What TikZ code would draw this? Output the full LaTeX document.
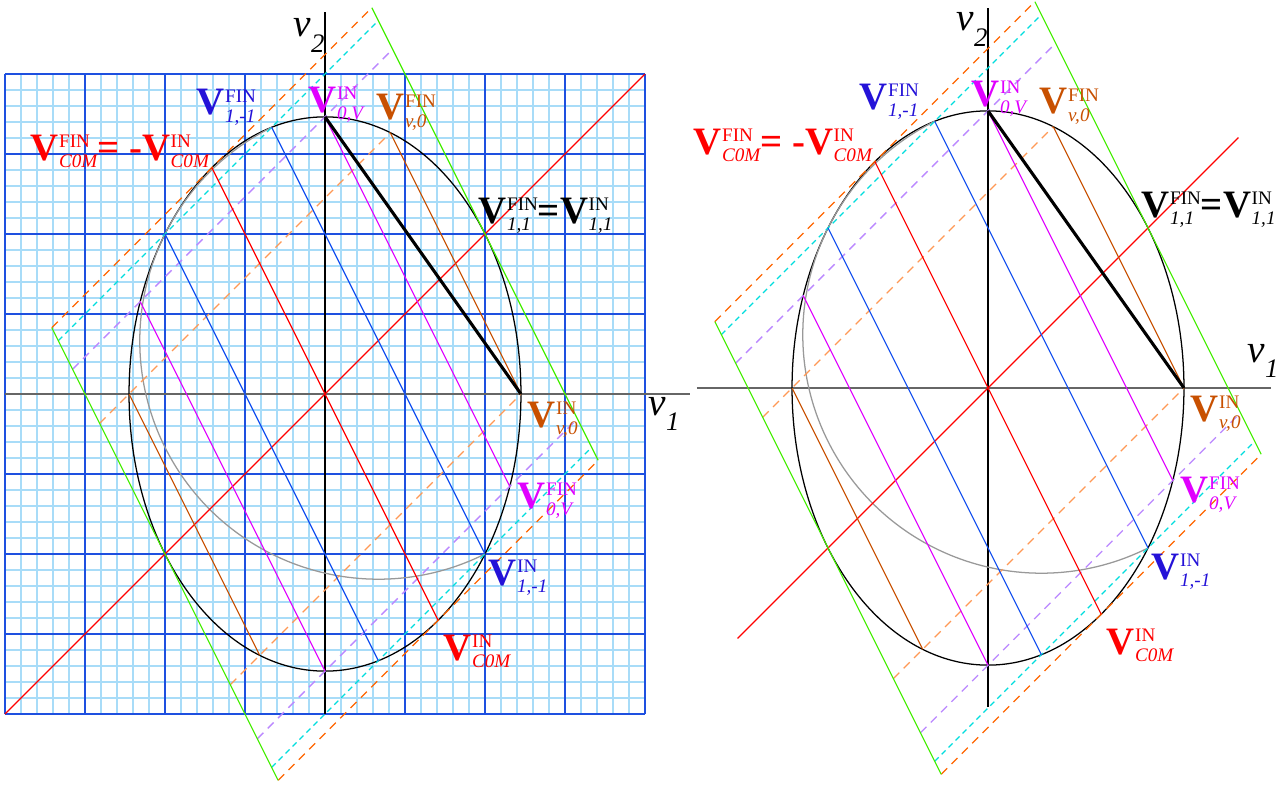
\documentclass[tikz,border=0pt]{standalone}
\usepackage{fontspec}
\setmainfont{Liberation Serif}
\definecolor{cRed}{HTML}{FF0000}
\definecolor{cBlue}{HTML}{1450F0}
\definecolor{cBlueL}{HTML}{2412D8}
\definecolor{cMag}{HTML}{E000FF}
\definecolor{cBrown}{HTML}{C85000}
\definecolor{cGreen}{HTML}{44EE00}
\definecolor{cOrange}{HTML}{FF6600}
\definecolor{cCyan}{HTML}{00DDDD}
\definecolor{cLav}{HTML}{BB88FF}
\definecolor{cLOr}{HTML}{FF9955}
\definecolor{gMaj}{HTML}{1E50E0}
\definecolor{gMin}{HTML}{A8DCF8}
\definecolor{cGray}{HTML}{999999}
\definecolor{cAxis}{HTML}{666666}
\newsavebox\bxA
\newsavebox\bxB
\newcommand\SupSub[2]{%
 \sbox\bxA{\raisebox{4.6pt}{\fontsize{6.8}{7}\selectfont #1}}%
 \sbox\bxB{\raisebox{-2.5pt}{\fontsize{6.8}{7}\selectfont\itshape #2}}%
 \kern0.2pt\ifdim\wd\bxA>\wd\bxB\rlap{\usebox\bxB}\usebox\bxA\else\rlap{\usebox\bxA}\usebox\bxB\fi}
\newcommand\VV[2]{\textbf{V}\SupSub{#1}{#2}}
\newcommand\vsub[1]{\textit{v}\raisebox{-5.5pt}{\fontsize{9.5}{9.5}\selectfont\itshape #1}}
\tikzset{
 chord/.style={line width=0.4pt},
 dsh/.style={line width=0.45pt, dash pattern=on 3pt off 2.2pt},
 dshc/.style={line width=0.45pt, dash pattern=on 2pt off 1.5pt},
 lab/.style={anchor=base west, inner sep=0pt, font=\fontsize{13.8}{14}\selectfont},
 axlab/.style={anchor=base west, inner sep=0pt, font=\fontsize{14}{14}\selectfont},
 haxis/.style={cAxis, line width=0.7pt},
 vaxis/.style={black, line width=0.4pt},
}
% #1,#2 horizontal axis ends; #3,#4 vertical axis ends; #5 diagonal half-length; #6 v1 label position
\newcommand\panel[6]{%
 \coordinate (hL) at (#1,0); \coordinate (hR) at (#2,0);
 \coordinate (vB) at (0,#3); \coordinate (vT) at (0,#4);
 \coordinate (dL) at (-#5,-#5); \coordinate (dR) at (#5,#5);
 \coordinate (O) at (0,0);
 \coordinate (A) at (0,3.46410); \coordinate (Ap) at (2.30940,-1.15470);
 \coordinate (A2) at (-2.30940,1.15470); \coordinate (A2p) at (0,-3.46410);
 \coordinate (B) at (2.44949,0); \coordinate (Bp) at (0.81650,3.26599);
 \coordinate (B2) at (-2.44949,0); \coordinate (B2p) at (-0.81650,-3.26599);
 \coordinate (C) at (1.41421,-2.82843); \coordinate (Cp) at (-1.41421,2.82843);
 \coordinate (D) at (2,-2); \coordinate (Dp) at (-0.66667,3.33333);
 \coordinate (D2) at (-2,2); \coordinate (D2p) at (0.66667,-3.33333);
 \coordinate (G1) at (0.58579,4.82843); \coordinate (G2) at (3.41421,-0.82843);
 \coordinate (G3) at (-3.41421,0.82843); \coordinate (G4) at (-0.58579,-4.82843);
 \coordinate (cu1) at (-3.33333,0.66667); \coordinate (cu2) at (0.66667,4.66667);
 \coordinate (cl1) at (-0.66667,-4.66667); \coordinate (cl2) at (3.33333,-0.66667);
 \coordinate (lu1) at (-3.15470,0.30940); \coordinate (lu2) at (0.84530,4.30940);
 \coordinate (ll1) at (-0.84530,-4.30940); \coordinate (ll2) at (3.15470,-0.30940);
 \coordinate (ou1) at (-2.81650,-0.36701); \coordinate (ol1) at (-1.18350,-3.63299);
 % axes
 \draw[haxis] (hL) -- (hR);
 \draw[vaxis] (vB) -- (vT);
 % ellipse and circle
 \draw[black, line width=0.45pt] (O) ellipse[x radius=2.44949, y radius=3.46410];
 \draw[cGray, line width=0.45pt] (Dp) arc[start angle=116.565, end angle=296.565, radius=2.98142];
 % dashed conjugate lines
 \draw[dsh, cOrange] (G3) -- (G1);
 \draw[dsh, cOrange] (G4) -- (G2);
 \draw[dshc, cCyan] (cu1) -- (cu2);
 \draw[dshc, cCyan] (cl1) -- (cl2);
 \draw[dsh, cLav] (lu1) -- (lu2);
 \draw[dsh, cLav] (ll1) -- (ll2);
 \draw[dsh, cLOr] (ou1) -- (Bp);
 \draw[dsh, cLOr] (ol1) -- (B);
 % diagonal
 \draw[chord, cRed] (dL) -- (dR);
 % chords
 \draw[chord, cGreen] (G1) -- (G2);
 \draw[chord, cGreen] (G3) -- (G4);
 \draw[chord, cBrown] (Bp) -- (B);
 \draw[chord, cBrown] (B2) -- (B2p);
 \draw[chord, cMag] (A) -- (Ap);
 \draw[chord, cMag] (A2) -- (A2p);
 \draw[chord, cBlue] (Dp) -- (D);
 \draw[chord, cBlue] (D2) -- (D2p);
 \draw[chord, cRed] (Cp) -- (C);
 \draw[black, line width=1.1pt] (A) -- (B);
 % labels
 \node[lab, cRed] (lc) at (-3.6875,2.925) {\VV{FIN}{C0M}\textbf{= -V}\SupSub{IN}{C0M}};
 \node[lab, cBlueL] (ld) at (-1.6125,3.4875) {\VV{FIN}{1,-1}};
 \node[lab, cMag] (la) at (-0.2125,3.525) {\VV{IN}{0,V}};
 \node[lab, cBrown] (lb) at (0.6375,3.425) {\VV{FIN}{v,0}};
 \node[lab, black] (le) at (1.9125,2.1375) {\VV{FIN}{1,1}\textbf{=V}\SupSub{IN}{1,1}};
 \node[lab, cBrown] (lb2) at (2.525,-0.4125) {\VV{IN}{v,0}};
 \node[lab, cMag] (la2) at (2.4,-1.425) {\VV{FIN}{0,V}};
 \node[lab, cBlueL] (ld2) at (2.0375,-2.3875) {\VV{IN}{1,-1}};
 \node[lab, cRed] (lc2) at (1.475,-3.325) {\VV{IN}{C0M}};
 \node[axlab] (v2) at (-0.4,4.4625) {\vsub{2}};
 \node[axlab] (v1) at (#6) {\vsub{1}};
}
\begin{document}
\begin{tikzpicture}[x=1cm,y=1cm]
\useasboundingbox (-4.0625,-4.8875) rectangle (11.9625,4.925);
\fill[white] (-4.0625,-4.8875) rectangle (11.9625,4.925);
% left grid
\draw[gMin, line width=0.5pt] (-4,-4) grid[step=0.2] (4,4);
\draw[gMaj, line width=0.7pt] (-4,-4) grid[step=1] (4,4);
\begin{scope}
\panel{-4}{4.56}{-4}{4.775}{4}{4.0375,-0.2625}
\end{scope}
\begin{scope}[shift={(8.2875,0.075)}]
\panel{-3.64}{3.54}{-3.99}{4.75}{3.13}{3.2375,0.325}
\end{scope}
\end{tikzpicture}
\end{document}
